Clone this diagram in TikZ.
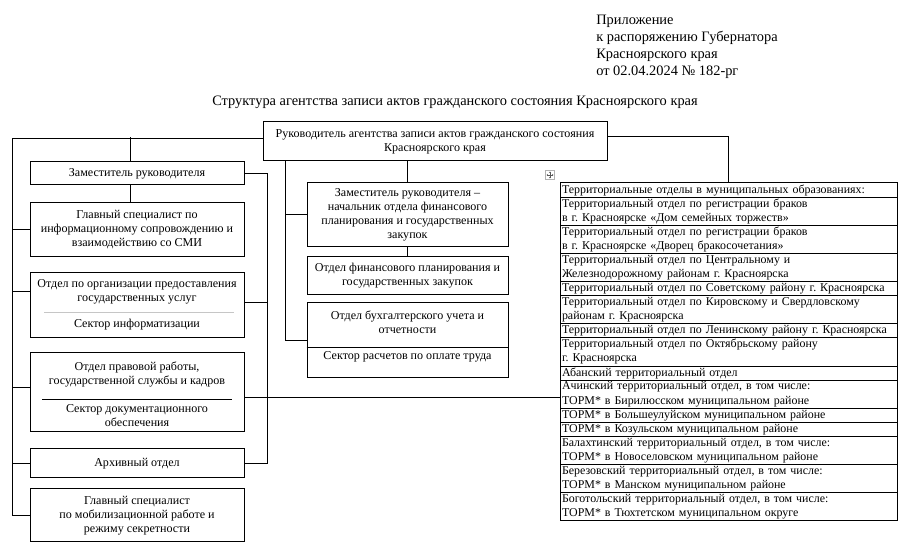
\documentclass[tikz,border=0pt]{standalone}
\usepackage{fontspec}
\setmainfont{Liberation Serif}
\usetikzlibrary{positioning,arrows.meta}
\frenchspacing

\begin{document}
\begin{tikzpicture}[x=0.75pt, y=-0.75pt,
	unitBox/.style={rectangle, draw, line width=0.75pt, align=center, font=\fontsize{9.05}{10.5}\selectfont, inner sep=1pt, minimum width=160.5pt},
	boxText/.style={align=center, font=\fontsize{9.05}{10.5}\selectfont, inner sep=0pt},
	tableRow/.style={rectangle, draw, line width=0.75pt, outer sep=0pt, align=left, text width=249.75pt, inner xsep=1.5pt, inner ysep=0pt, font=\fontsize{8.95}{10.56}\selectfont},
	link/.style={line width=0.75pt}]
	\useasboundingbox (0,0) rectangle (904,555);

	\node[anchor=north west, align=left, inner sep=0pt, font=\fontsize{10.8}{12.75}\selectfont](appendixText) at (596,15){Приложение\\к распоряжению Губернатора\\Красноярского края\\от 02.04.2024 № 182-рг};
	\node[inner sep=0pt, font=\fontsize{10.8}{12}\selectfont](titleText) at (455,102.5){Структура агентства записи актов гражданского состояния Красноярского края};

	\node[unitBox, minimum width=258pt, minimum height=29.25pt](headBox) at (435,141.5){Руководитель агентства записи актов гражданского состояния\\Красноярского края};

	\node[unitBox, minimum height=17.25pt](deputyBox) at (137,173.5){Заместитель руководителя};
	\node[unitBox, minimum height=40.5pt](pressBox) at (137,230){Главный специалист по\\информационному сопровождению и\\взаимодействию со СМИ};
	\node[unitBox, minimum height=48.75pt](servicesBox) at (137,305.5){};
	\node[boxText](servicesTop) at (137,292){Отдел по организации предоставления\\государственных услуг};
	\node[boxText](servicesSub) at (137,325){Сектор информатизации};
	\node[unitBox, minimum height=59.25pt](legalBox) at (137,392.5){};
	\node[boxText](legalTop) at (137,374.5){Отдел правовой работы,\\государственной службы и кадров};
	\node[boxText](legalSub) at (137,416){Сектор документационного\\обеспечения};
	\node[unitBox, minimum height=21.75pt](archiveBox) at (137,463.5){Архивный отдел};
	\node[unitBox, minimum height=39.75pt](mobBox) at (137,515.5){Главный специалист\\по мобилизационной работе и\\режиму секретности};

	\node[unitBox, minimum width=150.75pt, minimum height=48pt](finDeputyBox) at (407.5,215){Заместитель руководителя –\\начальник отдела финансового\\планирования и государственных\\закупок};
	\node[unitBox, minimum width=150.75pt, minimum height=28.5pt](finBox) at (407.5,276){Отдел финансового планирования и\\государственных закупок};
	\node[unitBox, minimum width=150.75pt, minimum height=56.25pt](acctBox) at (407.5,340.5){};
	\node[boxText](acctTop) at (407.5,322){Отдел бухгалтерского учета и\\отчетности};
	\node[boxText](acctSub) at (407.5,357){Сектор расчетов по оплате труда};

	\draw[gray!45, line width=0.5pt] (44,312) -- (234,312);
	\draw[line width=0.75pt] (42,400) -- (232,400);
	\draw[line width=0.75pt] (acctBox.west |- 0,348) -- (acctBox.east |- 0,348);

	\node[tableRow, anchor=north west, minimum height=10.56pt](row1) at (560,183){Территориальные отделы в муниципальных образованиях:};
	\node[tableRow, minimum height=21.12pt, below=0pt of row1](row2){Территориальный отдел по регистрации браков\\в г. Красноярске «Дом семейных торжеств»};
	\node[tableRow, minimum height=21.12pt, below=0pt of row2](row3){Территориальный отдел по регистрации браков\\в г. Красноярске «Дворец бракосочетания»};
	\node[tableRow, minimum height=21.12pt, below=0pt of row3](row4){Территориальный отдел по Центральному и\\Железнодорожному районам г. Красноярска};
	\node[tableRow, minimum height=10.56pt, below=0pt of row4](row5){Территориальный отдел по Советскому району г. Красноярска};
	\node[tableRow, minimum height=21.12pt, below=0pt of row5](row6){Территориальный отдел по Кировскому и Свердловскому\\районам г. Красноярска};
	\node[tableRow, minimum height=10.56pt, below=0pt of row6](row7){Территориальный отдел по Ленинскому району г. Красноярска};
	\node[tableRow, minimum height=21.12pt, below=0pt of row7](row8){Территориальный отдел по Октябрьскому району\\г. Красноярска};
	\node[tableRow, minimum height=10.56pt, below=0pt of row8](row9){Абанский территориальный отдел};
	\node[tableRow, minimum height=21.12pt, below=0pt of row9](row10){Ачинский территориальный отдел, в том числе:\\ТОРМ* в Бирилюсском муниципальном районе};
	\node[tableRow, minimum height=10.56pt, below=0pt of row10](row11){ТОРМ* в Большеулуйском муниципальном районе};
	\node[tableRow, minimum height=10.56pt, below=0pt of row11](row12){ТОРМ* в Козульском муниципальном районе};
	\node[tableRow, minimum height=21.12pt, below=0pt of row12](row13){Балахтинский территориальный отдел, в том числе:\\ТОРМ* в Новоселовском муниципальном районе};
	\node[tableRow, minimum height=21.12pt, below=0pt of row13](row14){Березовский территориальный отдел, в том числе:\\ТОРМ* в Манском муниципальном районе};
	\node[tableRow, minimum height=21.12pt, below=0pt of row14](row15){Боготольский территориальный отдел, в том числе:\\ТОРМ* в Тюхтетском муниципальном округе};

	\node[draw=gray!60, line width=0.4pt, minimum size=6.75pt, inner sep=0pt](moveHandle) at (550,175){};
	\draw[gray!70!black, line width=0.3pt, {Stealth[length=1pt,width=1.5pt]}-{Stealth[length=1pt,width=1.5pt]}] ([yshift=-1pt]moveHandle.north) -- ([yshift=1pt]moveHandle.south);
	\draw[gray!70!black, line width=0.3pt, {Stealth[length=1pt,width=1.5pt]}-{Stealth[length=1pt,width=1.5pt]}] ([xshift=1pt]moveHandle.west) -- ([xshift=-1pt]moveHandle.east);

	\coordinate (leftRail) at (12,0);
	\coordinate (pressDrop) at (130,0);
	\coordinate (innerRail) at (267,0);
	\coordinate (midRail) at (285,0);
	\coordinate (servicesLink) at ([yshift=2.6pt]servicesBox.east);
	\coordinate (legalLink) at ([yshift=-3.4pt]legalBox.east);

	\draw[link] ([yshift=2.6pt]headBox.west) -| (leftRail |- mobBox.west) -- (mobBox.west);
	\draw[link] (leftRail |- pressBox.west) -- (pressBox.west);
	\draw[link] (leftRail |- servicesTop.west) -- (servicesBox.west |- servicesTop.west);
	\draw[link] ([yshift=3.4pt]legalBox.west) -- ++(-18,0);
	\draw[link] (leftRail |- archiveBox.west) -- (archiveBox.west);
	\draw[link] (deputyBox.north -| pressDrop) -- ++(0,-24);
	\draw[link] (deputyBox.south -| pressDrop) -- (pressBox.north -| pressDrop);

	\draw[link] (deputyBox.east) -| (innerRail |- archiveBox.east) -- (archiveBox.east);
	\draw[link] (servicesLink) -- (servicesLink -| innerRail);
	\draw[link] (legalLink) -- (legalLink -| row10.west);

	\draw[link] (midRail |- headBox.south) |- (acctBox.west);
	\draw[link] (midRail |- finDeputyBox.west) -- (finDeputyBox.west);
	\draw[link] (finDeputyBox.north) -- (finDeputyBox.north |- headBox.south);
	\draw[link] (finDeputyBox.south) -- (finBox.north);

	\draw[link] ([yshift=3.4pt]headBox.east) -| (row1.north);
\end{tikzpicture}
\end{document}
